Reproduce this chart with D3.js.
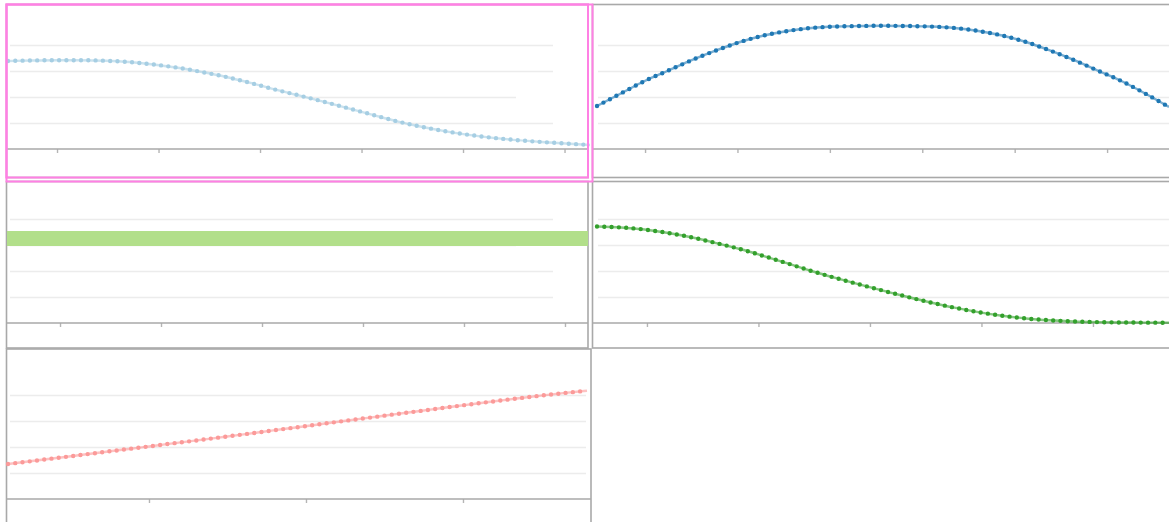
<!DOCTYPE html>
<html>
<head>
<meta charset="utf-8">
<script src="https://cdn.jsdelivr.net/npm/d3@7"></script>
<style>
  html, body { margin: 0; padding: 0; background: #fff; overflow: hidden; }
  svg { display: block; font-family: "DejaVu Sans", sans-serif; }
</style>
</head>
<body>
<svg id="chart" width="1169" height="522"></svg>
<script>
// ---- data: 25 evenly spaced samples per series ----
const fadingValues = [67.7, 68.1, 68.3, 68.3, 67.9, 66.9, 65.0, 62.5, 59.2, 55.4, 50.8, 45.8, 41.2,
                      36.5, 31.5, 26.5, 21.5, 17.3, 13.8, 10.9, 8.6, 6.8, 5.4, 4.2, 3.1];
const arcValues    = [33.1, 42.7, 52.3, 60.4, 68.5, 75.8, 82.3, 87.3, 90.8, 93.1, 94.2, 94.6, 94.8,
                      94.6, 94.2, 93.1, 90.8, 87.3, 82.3, 75.8, 68.5, 60.4, 52.3, 42.7, 32.3];
const bandLow      = [59.2, 59.2];
const bandHigh     = [70.8, 70.8];
const decayValues  = [74.2, 73.5, 71.9, 69.2, 65.8, 61.5, 56.9, 51.5, 45.8, 40.0, 34.7, 29.7, 24.9,
                      20.2, 15.8, 11.8, 8.4, 5.6, 3.5, 2.1, 1.2, 0.7, 0.4, 0.3, 0.2];
const riseValues   = [26.9, 29.2, 31.5, 33.8, 36.2, 38.5, 40.8, 43.2, 45.5, 47.9, 50.3, 52.8, 55.2,
                      57.7, 60.2, 62.6, 65.1, 67.5, 70.0, 72.4, 74.8, 77.1, 79.3, 81.4, 83.3];

const gridValues = [20, 40, 60, 80];
const yDomain = [0, 80];

const ticksA = [1, 2, 3, 4, 5, 6];
const ticksB = [1, 2, 3, 4, 5, 6];
const ticksC = [1, 2, 3, 4, 5, 6];
const ticksD = [1, 2, 3, 4, 5];
const ticksE = [1, 2, 3];

const domainA = [0.517, 6.251];
const domainB = [0.480, 6.670];
const domainC = [0.475, 6.228];
const domainD = [0.552, 5.682];
const domainE = [0.102, 3.790];

// ---- layout ----
const svg = d3.select("#chart");
const borderColor = "#a9a9a9";
const gridColor = "#ececec";
const highlight = "#ff80e4";

const panels = [
  { box: [6.5, 4.5, 588, 177.5],  plot: [8, 590],   axisY: 149, grid: [10, 553],  gridShort: 1,
    domain: domainA, ticks: ticksA, kind: "line", values: fadingValues, color: "#a6cee3" },
  { box: [592.5, 4.5, 1190, 177.5], plot: [597, 1169], axisY: 149, grid: [598, 1169], gridShort: -1,
    domain: domainB, ticks: ticksB, kind: "line", values: arcValues, color: "#1f78b4" },
  { box: [6.5, 181.5, 588, 348],  plot: [7, 588],   axisY: 323, grid: [10, 553],  gridShort: 2,
    domain: domainC, ticks: ticksC, kind: "band", low: bandLow, high: bandHigh, color: "#b2df8a" },
  { box: [592.5, 181.5, 1190, 348], plot: [597, 1169], axisY: 323, grid: [598, 1169], gridShort: -1,
    domain: domainD, ticks: ticksD, kind: "line", values: decayValues, color: "#33a02c" },
  { box: [6.5, 349, 591, 560],    plot: [8, 587],   axisY: 499, grid: [10, 586],  gridShort: -1,
    domain: domainE, ticks: ticksE, kind: "line", values: riseValues, color: "#fb9a99" }
];

panels.forEach(p => {
  const [bx0, by0, bx1, by1] = p.box;
  const g = svg.append("g");

  // panel frame
  g.append("rect")
    .attr("x", bx0).attr("y", by0)
    .attr("width", bx1 - bx0).attr("height", by1 - by0)
    .attr("fill", "none").attr("stroke", borderColor).attr("stroke-width", 1.6);

  const x = d3.scaleLinear().domain(p.domain).range(p.plot);
  const y = d3.scaleLinear().domain(yDomain).range([p.axisY, p.axisY - 104]);

  // horizontal gridlines
  g.selectAll("line.grid").data(gridValues).join("line")
    .attr("class", "grid")
    .attr("x1", p.grid[0])
    .attr("x2", (d, i) => i === p.gridShort ? p.grid[1] - 37 : p.grid[1])
    .attr("y1", d => Math.round(y(d)) + 0.5)
    .attr("y2", d => Math.round(y(d)) + 0.5)
    .attr("stroke", gridColor).attr("stroke-width", 1.6);

  // bottom axis: ticks without labels
  const axis = d3.axisBottom(x).tickValues(p.ticks).tickFormat("").tickSizeOuter(0).tickSizeInner(4);
  const ag = g.append("g").attr("transform", `translate(0,${p.axisY})`).call(axis);
  ag.select(".domain").remove();
  ag.selectAll(".tick line").attr("stroke", "#b5b5b5").attr("stroke-width", 1.4);
  g.append("line")
    .attr("x1", bx0).attr("x2", Math.min(bx1, 1169))
    .attr("y1", p.axisY).attr("y2", p.axisY)
    .attr("stroke", borderColor).attr("stroke-width", 1.6);

  if (p.kind === "band") {
    const xs = d3.scaleLinear().domain([0, p.low.length - 1]).range(p.domain);
    const pts = p.low.map((v, i) => ({ x: xs(i), lo: v, hi: p.high[i] }));
    const area = d3.area().x(d => x(d.x)).y0(d => y(d.lo)).y1(d => y(d.hi));
    g.append("path").datum(pts).attr("d", area).attr("fill", p.color);
  } else {
    const xs = d3.scaleLinear().domain([0, p.values.length - 1]).range(p.domain);
    const pts = p.values.map((v, i) => ({ x: xs(i), v }));
    const line = d3.line().x(d => x(d.x)).y(d => y(d.v)).curve(d3.curveMonotoneX);
    // thin connecting stroke
    g.append("path").datum(pts).attr("d", line)
      .attr("fill", "none").attr("stroke", p.color)
      .attr("stroke-width", 2.4).attr("stroke-opacity", 0.6);
    // beaded point markers along the line
    g.append("path").datum(pts).attr("d", line)
      .attr("fill", "none").attr("stroke", p.color)
      .attr("stroke-width", 4.4).attr("stroke-linecap", "round")
      .attr("stroke-dasharray", "0 7.3");
  }
});

// highlighted (selected) panel outline
svg.append("rect")
  .attr("x", 6.5).attr("y", 4.5).attr("width", 581.5).attr("height", 173)
  .attr("fill", "none").attr("stroke", highlight).attr("stroke-width", 2);
svg.append("rect")
  .attr("x", 6.5).attr("y", 4.5).attr("width", 586).attr("height", 177)
  .attr("fill", "none").attr("stroke", highlight).attr("stroke-width", 2);
</script>
</body>
</html>
